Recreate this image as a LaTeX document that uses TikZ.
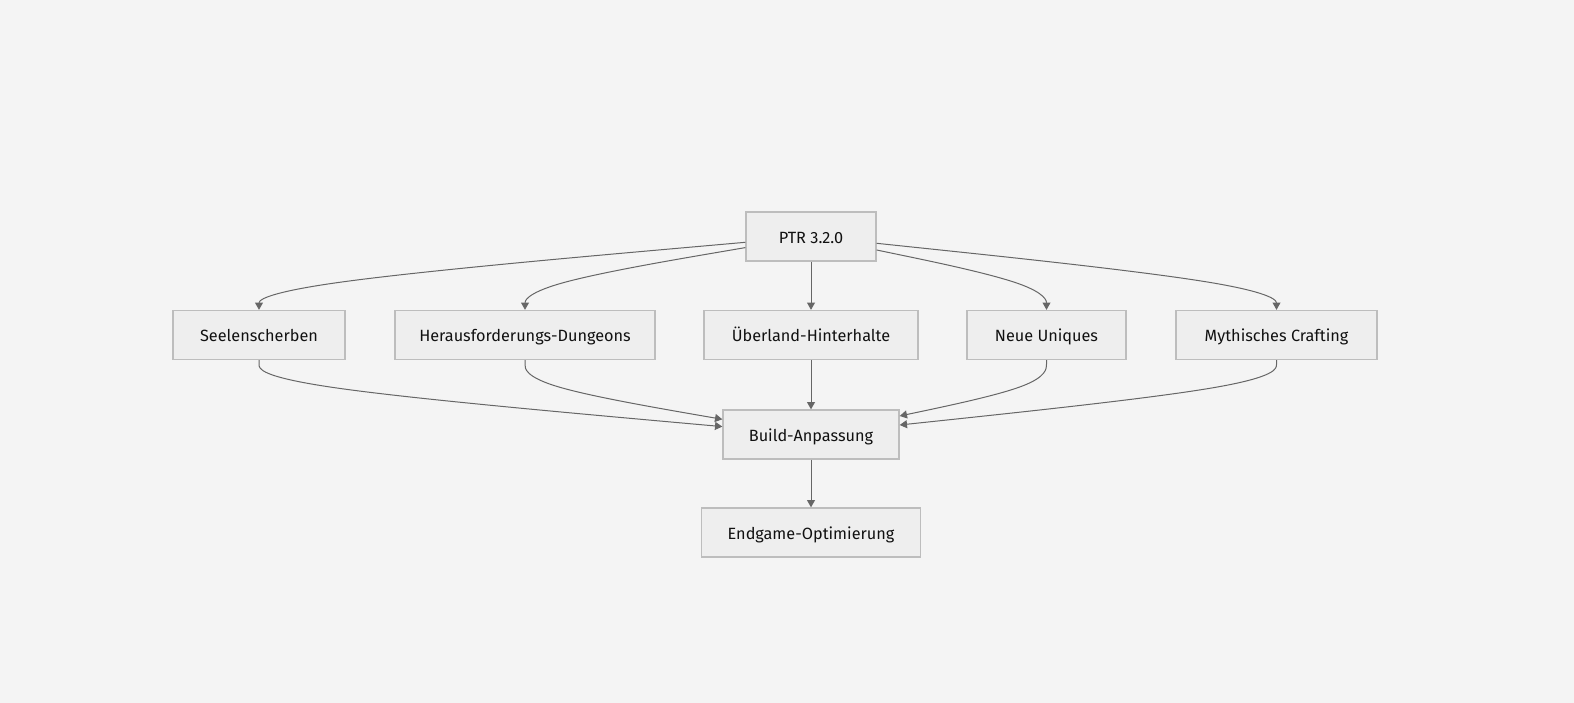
\documentclass[tikz,border=0pt]{standalone}
\usepackage{fontspec}
\setmainfont{Fira Sans}
\usetikzlibrary{arrows.meta,calc}
\definecolor{bgc}{HTML}{F4F4F4}
\definecolor{boxfill}{HTML}{EEEEEE}
\definecolor{boxline}{HTML}{BDBDBD}
\definecolor{edgec}{HTML}{666666}
\definecolor{txtc}{HTML}{111111}
\tikzset{
  box/.style={draw=boxline, fill=boxfill, line width=1pt, minimum height=36.75pt,
    inner sep=0pt, text height=10pt, text depth=0pt, text=txtc,
    font=\fontsize{12.2}{14}\selectfont},
  flow/.style={draw=edgec, line width=0.75pt, -{Triangle[length=5.5pt,width=6pt]}}
}
\newcommand{\basisedge}[3]{%
  \draw[flow] let \p1=#1, \p2=#2, \p3=#3 in
    (\p1) -- ({(5*\x1+\x2)/6},{(5*\y1+\y2)/6})
    .. controls ({(2*\x1+\x2)/3},{(2*\y1+\y2)/3}) and ({(\x1+2*\x2)/3},{(\y1+2*\y2)/3})
    .. ({(\x1+4*\x2+\x3)/6},{(\y1+4*\y2+\y3)/6})
    .. controls ({(2*\x2+\x3)/3},{(2*\y2+\y3)/3}) and ({(\x2+2*\x3)/3},{(\y2+2*\y3)/3})
    .. (\p3);}
\begin{document}
\begin{tikzpicture}[x=0.75pt,y=-0.75pt]
\fill[bgc] (0,0) rectangle (1574,703);
\useasboundingbox (0,0) rectangle (1574,703);

\node[box, minimum width=97.5pt]  (ptr)   at (811,236.5) {PTR 3.2.0};
\node[box, minimum width=129pt]   (seel)  at (259,335)   {Seelenscherben};
\node[box, minimum width=195pt]   (hera)  at (525,335)   {Herausforderungs-Dungeons};
\node[box, minimum width=160.5pt] (ueber) at (811,335)   {Überland-Hinterhalte};
\node[box, minimum width=119.25pt](neue)  at (1046.5,335) {Neue Uniques};
\node[box, minimum width=150.75pt](myth)  at (1276.5,335) {Mythisches Crafting};
\node[box, minimum width=132pt]   (build) at (811,434.5) {Build-Anpassung};
\node[box, minimum width=164.25pt](endg)  at (811,532.5) {Endgame-Optimierung};

\basisedge{($(ptr.west)+(0,5.8)$)}{($(seel.north)+(0,-24.5)$)}{(seel.north)}
\basisedge{($(ptr.west)+(0,11.1)$)}{($(hera.north)+(0,-24.5)$)}{(hera.north)}
\draw[flow] (ptr) -- (ueber);
\basisedge{($(ptr.east)+(0,13.5)$)}{($(neue.north)+(0,-24.5)$)}{(neue.north)}
\basisedge{($(ptr.east)+(0,6.8)$)}{($(myth.north)+(0,-24.5)$)}{(myth.north)}

\basisedge{(seel.south)}{($(seel.south)+(0,25)$)}{($(build.west)+(0,-7.9)$)}
\basisedge{(hera.south)}{($(hera.south)+(0,25)$)}{($(build.west)+(0,-15.2)$)}
\draw[flow] (ueber) -- (build);
\basisedge{(neue.south)}{($(neue.south)+(0,25)$)}{($(build.east)+(0,-18.5)$)}
\basisedge{(myth.south)}{($(myth.south)+(0,25)$)}{($(build.east)+(0,-9.5)$)}

\draw[flow] (build) -- (endg);
\end{tikzpicture}
\end{document}
